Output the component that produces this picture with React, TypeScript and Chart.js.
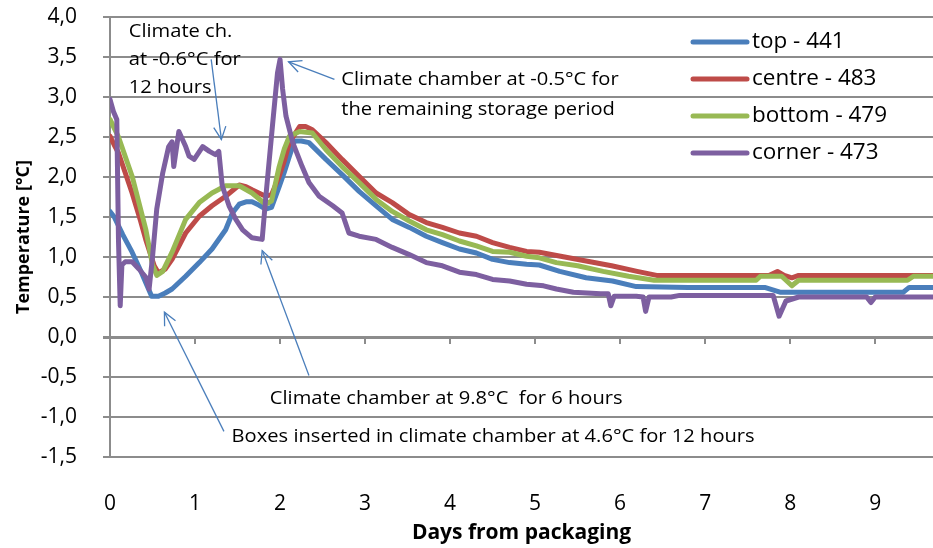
import React, { useEffect, useRef } from "react";
import { Chart, registerables } from "chart.js";

Chart.register(...registerables);

// ---------- data ----------
const seriesLabels = ["top - 441", "centre - 483", "bottom - 479", "corner - 473"];
const seriesColors = ["#4A7EBB", "#BE4B48", "#98B954", "#7D5FA0"];

const topDays = [0, 0.05, 0.15, 0.26, 0.36, 0.42, 0.49, 0.57, 0.65, 0.73, 0.89, 1.05, 1.2, 1.36, 1.44, 1.52, 1.6, 1.67, 1.75, 1.83, 1.9, 1.99, 2.05, 2.11, 2.17, 2.25, 2.34, 2.54, 2.73, 2.93, 3.13, 3.32, 3.52, 3.72, 3.91, 4.11, 4.31, 4.5, 4.7, 4.9, 5.05, 5.29, 5.6, 5.91, 6.19, 6.8, 7.7, 7.88, 9.33, 9.4, 9.68];
const topTemps = [1.57, 1.5, 1.28, 1.06, 0.83, 0.68, 0.51, 0.51, 0.55, 0.6, 0.76, 0.93, 1.1, 1.34, 1.55, 1.66, 1.69, 1.69, 1.65, 1.6, 1.62, 1.88, 2.06, 2.26, 2.45, 2.45, 2.43, 2.22, 2.03, 1.82, 1.64, 1.47, 1.37, 1.26, 1.18, 1.1, 1.05, 0.97, 0.93, 0.91, 0.9, 0.82, 0.74, 0.7, 0.63, 0.62, 0.62, 0.56, 0.56, 0.62, 0.62];

const centreDays = [0, 0.05, 0.1, 0.26, 0.36, 0.42, 0.52, 0.57, 0.65, 0.73, 0.89, 1.05, 1.2, 1.36, 1.52, 1.6, 1.67, 1.83, 1.9, 1.99, 2.05, 2.11, 2.23, 2.3, 2.38, 2.54, 2.73, 2.93, 3.13, 3.32, 3.52, 3.72, 3.91, 4.11, 4.31, 4.5, 4.7, 4.9, 5.05, 5.3, 5.6, 5.9, 6.2, 6.43, 7.75, 7.85, 7.93, 8.02, 8.1, 9.68];
const centreTemps = [2.51, 2.4, 2.3, 1.8, 1.45, 1.22, 0.89, 0.8, 0.85, 0.97, 1.3, 1.51, 1.64, 1.76, 1.9, 1.88, 1.84, 1.76, 1.78, 2.01, 2.2, 2.43, 2.63, 2.63, 2.59, 2.43, 2.22, 2.01, 1.8, 1.68, 1.53, 1.43, 1.37, 1.3, 1.26, 1.18, 1.12, 1.07, 1.06, 1.01, 0.95, 0.89, 0.82, 0.77, 0.77, 0.82, 0.77, 0.74, 0.77, 0.77];

const bottomDays = [0, 0.1, 0.26, 0.42, 0.5, 0.55, 0.62, 0.73, 0.89, 1.05, 1.2, 1.36, 1.52, 1.67, 1.83, 1.9, 1.99, 2.05, 2.11, 2.23, 2.38, 2.54, 2.73, 2.93, 3.13, 3.32, 3.52, 3.72, 3.91, 4.11, 4.31, 4.5, 4.7, 4.9, 5.05, 5.25, 5.5, 5.8, 6.1, 6.4, 7.6, 7.65, 7.9, 8.02, 8.1, 9.38, 9.45, 9.68];
const bottomTemps = [2.72, 2.5, 2.01, 1.35, 0.9, 0.77, 0.82, 1.06, 1.47, 1.68, 1.8, 1.89, 1.89, 1.8, 1.66, 1.7, 2.13, 2.35, 2.51, 2.57, 2.55, 2.34, 2.13, 1.93, 1.72, 1.57, 1.45, 1.34, 1.28, 1.2, 1.14, 1.07, 1.06, 1.01, 0.99, 0.93, 0.89, 0.82, 0.76, 0.71, 0.71, 0.76, 0.76, 0.64, 0.71, 0.71, 0.76, 0.76];

const cornerDays = [0, 0.04, 0.08, 0.1, 0.12, 0.14, 0.18, 0.26, 0.34, 0.42, 0.46, 0.5, 0.55, 0.62, 0.69, 0.73, 0.75, 0.81, 0.89, 0.93, 0.99, 1.09, 1.17, 1.24, 1.28, 1.32, 1.4, 1.48, 1.56, 1.67, 1.79, 1.83, 1.91, 1.97, 2.0, 2.03, 2.07, 2.15, 2.26, 2.34, 2.46, 2.62, 2.73, 2.81, 2.93, 3.13, 3.32, 3.52, 3.72, 3.91, 4.11, 4.31, 4.5, 4.7, 4.9, 5.1, 5.25, 5.45, 5.77, 5.86, 5.89, 5.93, 6.19, 6.27, 6.3, 6.34, 6.6, 6.7, 7.8, 7.87, 7.95, 8.1, 8.9, 8.95, 9.0, 9.68];
const cornerTemps = [2.97, 2.82, 2.72, 1.2, 0.39, 0.9, 0.94, 0.94, 0.85, 0.75, 0.6, 1.0, 1.6, 2.05, 2.38, 2.44, 2.13, 2.57, 2.38, 2.26, 2.22, 2.38, 2.32, 2.28, 2.32, 1.89, 1.64, 1.47, 1.34, 1.24, 1.22, 1.72, 2.63, 3.3, 3.47, 3.1, 2.76, 2.43, 2.13, 1.93, 1.76, 1.64, 1.55, 1.3, 1.26, 1.22, 1.12, 1.03, 0.93, 0.89, 0.81, 0.78, 0.72, 0.7, 0.66, 0.64, 0.6, 0.56, 0.54, 0.54, 0.39, 0.51, 0.51, 0.5, 0.32, 0.5, 0.5, 0.52, 0.52, 0.26, 0.45, 0.5, 0.5, 0.43, 0.5, 0.5];

const xMin = 0;
const xMax = 9.68;
const yMin = -1.5;
const yMax = 4.0;
const yStep = 0.5;
const xTickDays = [0, 1, 2, 3, 4, 5, 6, 7, 8, 9];

const xTitle = "Days from packaging";
const yTitle = "Temperature [°C]";

// annotation texts (anchored in data coordinates: day, °C)
const noteTexts = [
  ["Climate ch.", "at -0.6°C for", "12 hours"],
  ["Climate chamber at -0.5°C for", "the remaining storage period"],
  ["Climate chamber at 9.8°C  for 6 hours"],
  ["Boxes inserted in climate chamber at 4.6°C for 12 hours"],
];
const noteAnchorDays = [0.22, 2.72, 1.88, 1.43];
const noteAnchorTemps = [3.82, 3.22, -0.77, -1.24];
// arrows: from (day,temp) -> head (day,temp)
const arrowFromDays = [1.19, 2.64, 2.34, 1.34];
const arrowFromTemps = [3.47, 3.22, -0.48, -1.18];
const arrowToDays = [1.31, 2.1, 1.79, 0.64];
const arrowToTemps = [2.47, 3.44, 1.08, 0.31];

// ---------- styling ----------
const FONT = "'Open Sans', 'DejaVu Sans', sans-serif";
const GRID = "#8C8C8C";
const ARROW = "#4A7EBB";

const fmt = (v: number) => v.toFixed(1).replace(".", ",");

const zeroAxisPlugin = {
  id: "zeroAxis",
  beforeDatasetsDraw(chart: any) {
    const { ctx, scales } = chart;
    const x = scales.x;
    const y = scales.y;
    const y0 = y.getPixelForValue(0);
    ctx.save();
    ctx.strokeStyle = GRID;
    ctx.lineWidth = 2;
    for (const d of xTickDays) {
      const px = Math.round(x.getPixelForValue(d));
      ctx.beginPath();
      ctx.moveTo(px, y0);
      ctx.lineTo(px, y0 + 7);
      ctx.stroke();
    }
    ctx.restore();
  },
};

const legendPlugin = {
  id: "insideLegend",
  afterDraw(chart: any) {
    const { ctx, chartArea } = chart;
    const left = chartArea.right - 240;
    const top = chartArea.top + 25;
    const rowH = 37;
    ctx.save();
    ctx.font = `21px ${FONT}`;
    ctx.textBaseline = "middle";
    ctx.textAlign = "left";
    chart.data.datasets.forEach((ds: any, i: number) => {
      const cy = top + i * rowH;
      ctx.strokeStyle = ds.borderColor;
      ctx.lineWidth = 5;
      ctx.lineCap = "round";
      ctx.beginPath();
      ctx.moveTo(left, cy);
      ctx.lineTo(left + 54, cy);
      ctx.stroke();
      ctx.fillStyle = "#000";
      ctx.save();
      ctx.translate(left + 59, cy);
      ctx.scale(1.07, 1);
      ctx.fillText(ds.label, 0, 0);
      ctx.restore();
    });
    ctx.restore();
  },
};

const notesPlugin = {
  id: "notes",
  afterDraw(chart: any) {
    const { ctx, scales } = chart;
    const x = scales.x;
    const y = scales.y;
    ctx.save();
    // arrows
    ctx.strokeStyle = ARROW;
    ctx.lineWidth = 1.3;
    for (let i = 0; i < arrowFromDays.length; i++) {
      const x1 = x.getPixelForValue(arrowFromDays[i]);
      const y1 = y.getPixelForValue(arrowFromTemps[i]);
      const x2 = x.getPixelForValue(arrowToDays[i]);
      const y2 = y.getPixelForValue(arrowToTemps[i]);
      ctx.beginPath();
      ctx.moveTo(x1, y1);
      ctx.lineTo(x2, y2);
      ctx.stroke();
      const ang = Math.atan2(y2 - y1, x2 - x1);
      const len = 14;
      const spread = 0.45;
      ctx.beginPath();
      ctx.moveTo(x2 - len * Math.cos(ang - spread), y2 - len * Math.sin(ang - spread));
      ctx.lineTo(x2, y2);
      ctx.lineTo(x2 - len * Math.cos(ang + spread), y2 - len * Math.sin(ang + spread));
      ctx.stroke();
    }
    // texts
    ctx.fillStyle = "#000";
    ctx.font = `19px ${FONT}`;
    ctx.textAlign = "left";
    ctx.textBaseline = "middle";
    for (let i = 0; i < noteTexts.length; i++) {
      const px = x.getPixelForValue(noteAnchorDays[i]);
      const py = y.getPixelForValue(noteAnchorTemps[i]);
      noteTexts[i].forEach((line, j) => {
        ctx.save();
        ctx.translate(px, py + j * (i === 0 ? 28 : 30));
        ctx.scale(1.06, 1);
        ctx.fillText(line, 0, 0);
        ctx.restore();
      });
    }
    ctx.restore();
  },
};

function makeData(days: number[], temps: number[]) {
  return days.map((d, i) => ({ x: d, y: temps[i] }));
}

export default function App() {
  const ref = useRef<HTMLCanvasElement | null>(null);

  useEffect(() => {
    if (!ref.current) return;
    const series = [
      makeData(topDays, topTemps),
      makeData(centreDays, centreTemps),
      makeData(bottomDays, bottomTemps),
      makeData(cornerDays, cornerTemps),
    ];
    const chart = new Chart(ref.current, {
      type: "line",
      data: {
        datasets: series.map((data, i) => ({
          label: seriesLabels[i],
          data,
          borderColor: seriesColors[i],
          backgroundColor: seriesColors[i],
          borderWidth: 5,
          pointRadius: 0,
          tension: 0,
          borderCapStyle: "round" as const,
          borderJoinStyle: "round" as const,
          order: 3 - i,
        })),
      },
      options: {
        animation: false,
        responsive: false,
        devicePixelRatio: 1,
        layout: { padding: { top: 17, right: 0, left: 0, bottom: 0 } },
        plugins: {
          legend: { display: false },
          tooltip: { enabled: false },
        },
        scales: {
          x: {
            type: "linear",
            min: xMin,
            max: xMax,
            afterBuildTicks: (scale: any) => {
              scale.ticks = xTickDays.map((v) => ({ value: v }));
            },
            afterFit: (scale: any) => {
              scale.height = 91;
              scale.paddingLeft = 0;
              scale.paddingRight = 0;
            },
            grid: { display: false, drawTicks: false },
            border: { display: false },
            ticks: {
              color: "#000",
              font: { family: FONT, size: 21 },
              padding: 34,
              maxRotation: 0,
              callback: (v: any) => String(v),
            },
            title: {
              display: true,
              text: xTitle,
              color: "#000",
              font: { family: FONT, size: 21, weight: "bold" },
              padding: { top: 0, bottom: 2 },
            },
          },
          y: {
            type: "linear",
            min: yMin,
            max: yMax,
            afterFit: (scale: any) => {
              scale.width = 110;
              scale.paddingTop = 0;
              scale.paddingBottom = 0;
            },
            ticks: {
              stepSize: yStep,
              color: "#000",
              font: { family: FONT, size: 21 },
              padding: 26,
              callback: (v: any) => fmt(Number(v)),
            },
            grid: {
              color: GRID,
              tickColor: GRID,
              lineWidth: (c: any) => (c.tick && c.tick.value === 0 ? 3 : 2),
              tickLength: 7,
            },
            border: { display: true, color: GRID, width: 2 },
            title: {
              display: true,
              text: yTitle,
              color: "#000",
              font: { family: FONT, size: 18, weight: "bold" },
              padding: { top: 13, bottom: 0 },
            },
          },
        },
      },
      plugins: [zeroAxisPlugin, legendPlugin, notesPlugin],
    } as any);
    return () => chart.destroy();
  }, []);

  return (
    <div style={{ position: "fixed", left: 0, top: 0, width: 933, height: 548, background: "#fff" }}>
      <canvas ref={ref} width={933} height={548} style={{ width: 933, height: 548, display: "block" }} />
    </div>
  );
}
